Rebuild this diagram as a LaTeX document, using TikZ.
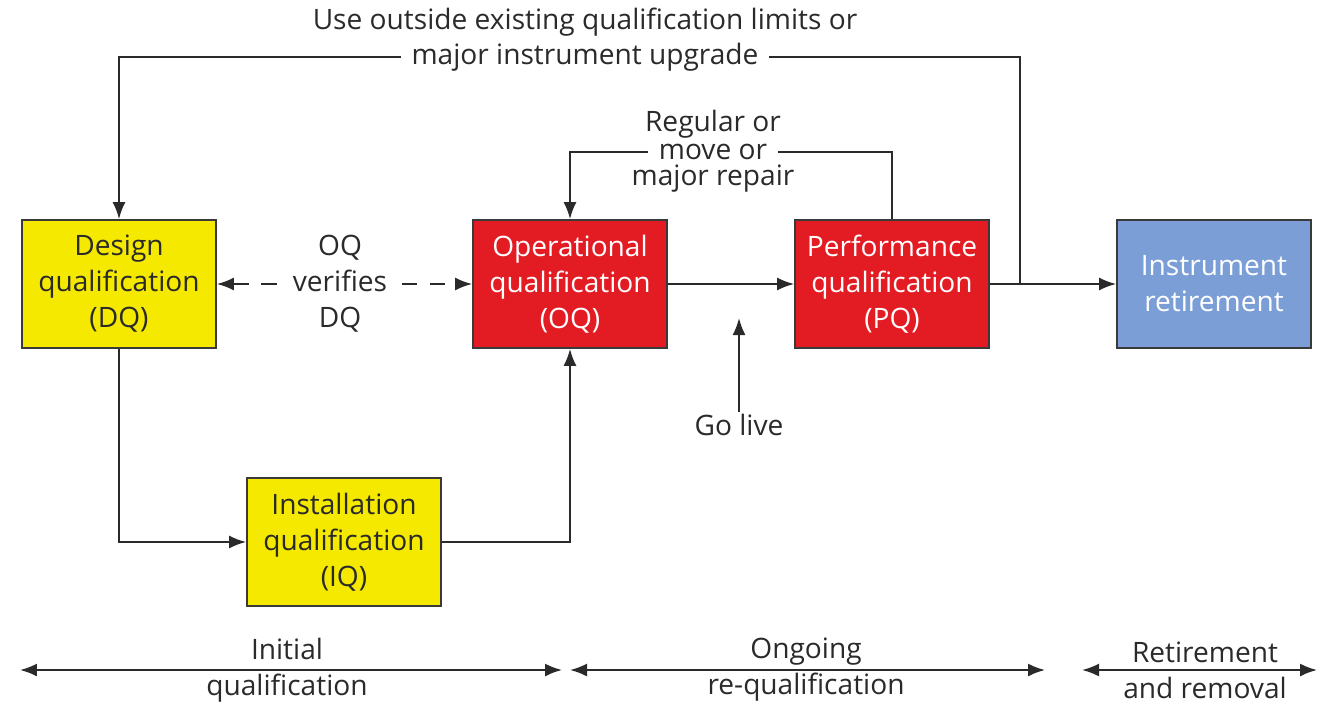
\documentclass[tikz,border=0pt]{standalone}
\usepackage{fontspec}
\setmainfont{Open Sans}
\usetikzlibrary{arrows.meta}

\definecolor{dqyellow}{HTML}{F5E900}
\definecolor{oqred}{HTML}{E31C24}
\definecolor{retblue}{HTML}{7B9ED6}
\definecolor{edgegrey}{HTML}{3A3A3A}
\definecolor{inkgrey}{HTML}{2A2A2A}

\tikzstyle{qbox} = [
rectangle,
minimum width=3.88cm,
minimum height=2.56cm,
align=center,
draw=edgegrey,
line width=1pt
]
\tikzstyle{yellowbox} = [
qbox,
fill=dqyellow,
text=inkgrey
]
\tikzstyle{redbox} = [
qbox,
fill=oqred,
text=white
]
\tikzstyle{bluebox} = [
qbox,
fill=retblue,
text=white
]
\tikzstyle{lbl} = [
align=center,
text=inkgrey,
inner sep=1pt
]
\tikzstyle{cutlbl} = [
lbl,
fill=white,
inner xsep=6pt
]
\tikzstyle{arrow} = [
draw=inkgrey,
line width=1.1pt,
-{Latex[length=3.4mm,width=2.6mm]}
]
\tikzstyle{dasharrow} = [
arrow,
{Latex[length=3.4mm,width=2.6mm]}-{Latex[length=3.4mm,width=2.6mm]},
dash pattern=on 9pt off 7pt
]
\tikzstyle{span} = [
arrow,
{Latex[length=3.4mm,width=2.6mm]}-{Latex[length=3.4mm,width=2.6mm]}
]

\begin{document}
\begin{tikzpicture}[
x=0.02cm,
y=-0.02cm,
font=\fontsize{16}{20.5}\selectfont
]

\useasboundingbox (0,0) rectangle (1317,703);

\node (dq) [yellowbox] at (119,284)
{Design\\qualification\\(DQ)};

\node (oq) [redbox] at (570,284)
{Operational\\qualification\\(OQ)};

\node (pq) [redbox] at (892,284)
{Performance\\qualification\\(PQ)};

\node (ret) [bluebox] at (1214,284)
{Instrument\\retirement};

\node (iq) [yellowbox] at (344,542)
{Installation\\qualification\\(IQ)};

\coordinate (tap) at (1020,284);
\coordinate (toploop) at (585,57);
\coordinate (reploop) at (713,152);
\coordinate (golivetip) at (739,318);

\coordinate (ini-l) at (20,670);
\coordinate (ini-r) at (562,670);
\coordinate (ong-l) at (570,670);
\coordinate (ong-r) at (1045,670);
\coordinate (ret-l) at (1082,670);
\coordinate (ret-r) at (1317,670);

\draw [arrow] (oq) -- (pq);

\draw [arrow] (pq) -- (ret);

\draw [arrow] (tap) |- (toploop) -| (dq.north);

\draw [arrow] (pq.north) |- (reploop) -| (oq.north);

\draw [dasharrow] (dq) -- (oq);

\draw [arrow] (dq.south) |- (iq.west);

\draw [arrow] (iq.east) -| (oq.south);

\draw [span] (ini-l) -- (ini-r);

\draw [span] (ong-l) -- (ong-r);

\draw [span] (ret-l) -- (ret-r);

\node (uselbl) [lbl] at (585,22)
{Use outside existing qualification limits or};

\node (upglbl) [cutlbl] at (toploop)
{major instrument upgrade};

\node (reglbl) [lbl] at (713,124)
{Regular or};

\node (movelbl) [cutlbl] at (reploop)
{move or};

\node (replbl) [lbl] at (713,179)
{major repair};

\node (verlbl) [cutlbl] at (340,284)
{OQ\\verifies\\DQ};

\node (golive) [lbl] at (739,425)
{Go live};

\draw [arrow] (golive) -- (golivetip);

\node (inilbl) [lbl] at (287,670)
{Initial\\qualification};

\node (onglbl) [lbl] at (806,670)
{Ongoing\\re-qualification};

\node (retlbl) [lbl] at (1205,670)
{Retirement\\and removal};

\end{tikzpicture}
\end{document}
